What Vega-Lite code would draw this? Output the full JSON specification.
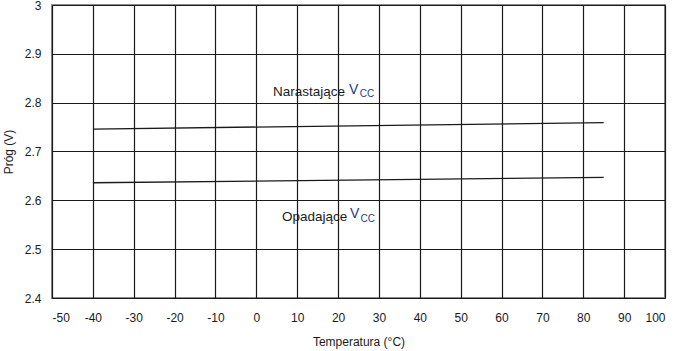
{
  "$schema": "https://vega.github.io/schema/vega-lite/v6.json",
  "width": 613,
  "height": 293,
  "autosize": {"type": "none"},
  "padding": {"left": 52, "top": 5, "right": 13, "bottom": 53},
  "background": "white",
  "config": {
    "font": "Liberation Sans",
    "view": {"stroke": "#8c8c8c", "strokeWidth": 2},
    "axis": {
      "grid": true,
      "gridColor": "#1a1a1a",
      "gridOpacity": 1,
      "gridWidth": 1.2,
      "domain": false,
      "ticks": false,
      "labelFont": "Liberation Sans",
      "labelFontSize": 12,
      "labelColor": "#1a1a1a",
      "titleFont": "Liberation Sans",
      "titleFontSize": 12,
      "titleFontWeight": "normal",
      "titleColor": "#1a1a1a"
    }
  },
  "datasets": {
    "lines": [
      {"series": "Narastające", "t": -40, "v": 2.746},
      {"series": "Narastające", "t": 85, "v": 2.759},
      {"series": "Opadające", "t": -40, "v": 2.636},
      {"series": "Opadające", "t": 85, "v": 2.647}
    ],
    "labels": [
      {"word": "Narastające", "t": 4.1, "v": 2.8131, "vt": 22.7, "vv": 2.8178, "cc": 25.3, "vcc": 2.8117},
      {"word": "Opadające", "t": 6.3, "v": 2.5567, "vt": 22.9, "vv": 2.5645, "cc": 25.5, "vcc": 2.5557}
    ]
  },
  "layer": [
    {
      "data": {"name": "lines"},
      "mark": {"type": "line", "color": "#1a1a1a", "strokeWidth": 1.3},
      "encoding": {
        "x": {
          "field": "t", "type": "quantitative",
          "scale": {"domain": [-50, 100], "nice": false},
          "axis": {"values": [-50, -40, -30, -20, -10, 0, 10, 20, 30, 40, 50, 60, 70, 80, 90, 100], "labelExpr": "datum.value + ''", "labelPadding": 14, "title": "Temperatura (°C)", "titleY": 43, "titleBaseline": "middle"}
        },
        "y": {
          "field": "v", "type": "quantitative",
          "scale": {"domain": [2.4, 3.0], "nice": false, "zero": false},
          "axis": {"values": [2.4, 2.5, 2.6, 2.7, 2.8, 2.9, 3.0], "labelExpr": "format(datum.value, '.2~f')", "labelPadding": 11, "title": "Próg (V)", "titleX": -44, "titleBaseline": "middle"}
        },
        "detail": {"field": "series"}
      }
    },
    {
      "data": {"name": "labels"},
      "mark": {"type": "text", "align": "left", "baseline": "alphabetic", "fontSize": 13.5, "color": "#1a1a1a", "font": "Liberation Sans"},
      "encoding": {
        "x": {"field": "t", "type": "quantitative"},
        "y": {"field": "v", "type": "quantitative"},
        "text": {"field": "word"}
      }
    },
    {
      "data": {"name": "labels"},
      "mark": {"type": "text", "align": "left", "baseline": "alphabetic", "fontSize": 14, "color": "#1f3c88", "font": "Liberation Sans", "text": "V"},
      "encoding": {
        "x": {"field": "vt", "type": "quantitative"},
        "y": {"field": "vv", "type": "quantitative"}
      }
    },
    {
      "data": {"name": "labels"},
      "mark": {"type": "text", "align": "left", "baseline": "alphabetic", "fontSize": 10, "color": "#1f3c88", "font": "Liberation Sans", "text": "CC"},
      "encoding": {
        "x": {"field": "cc", "type": "quantitative"},
        "y": {"field": "vcc", "type": "quantitative"}
      }
    }
  ]
}
